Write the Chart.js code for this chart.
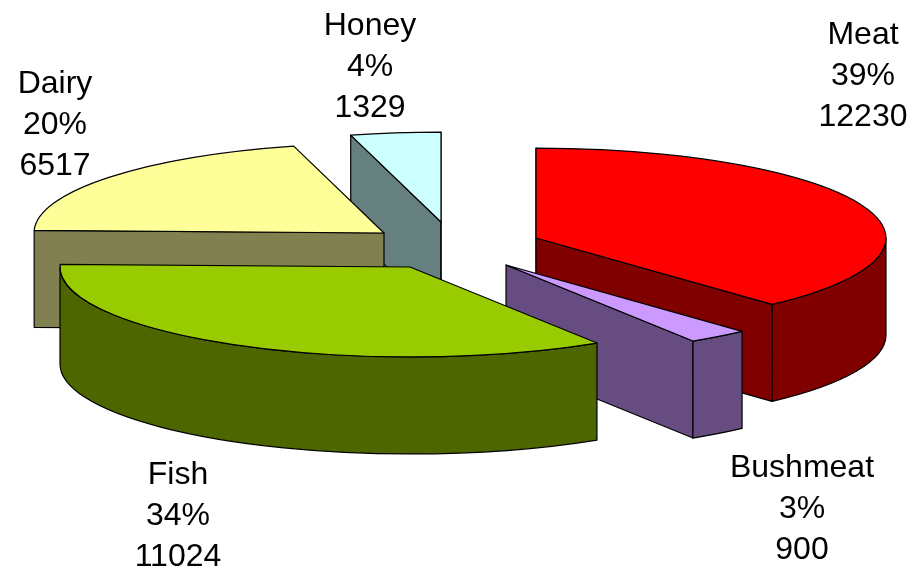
<!DOCTYPE html>
<html>
<head>
<meta charset="utf-8">
<style>html,body{margin:0;padding:0;background:#fff}#wrap{width:913px;height:571px}canvas{display:block}</style>
<script src="https://cdn.jsdelivr.net/npm/chart.js@4"></script>
</head>
<body>
<div id="wrap"><canvas id="c" width="913" height="571"></canvas></div>
<script>
const categories = ['Meat', 'Bushmeat', 'Fish', 'Dairy', 'Honey'];
const values = [12230, 900, 11024, 6517, 1329];
const percents = ['39%', '3%', '34%', '20%', '4%'];
const topColors = ['#FF0000', '#CC99FF', '#99CC00', '#FFFF99', '#CCFFFF'];
const sideColors = ['#800000', '#664C80', '#4D6600', '#808050', '#668080'];
const explode = [[86, -8], [56, 19], [-40, 21], [-66, -13], [-9, -24]];
const labelCenters = [[863, 35], [802, 468], [178, 475], [55, 84], [370, 26]];
const paintOrder = [4, 3, 0, 1, 2];
const squash = 0.257, depth = 97, lineGap = 41;

const pie3d = {
  id: 'pie3d',
  beforeDatasetDraw(chart, args) {
    const ctx = chart.ctx, arcs = args.meta.data;
    ctx.save();
    ctx.lineWidth = 1.2;
    ctx.strokeStyle = '#000';
    ctx.lineJoin = 'round';
    const shape = (fill) => { ctx.fillStyle = fill; ctx.fill(); ctx.stroke(); };
    const eps = 1e-6;
    paintOrder.forEach(i => {
      const p = arcs[i].getProps(['x', 'y', 'startAngle', 'endAngle', 'outerRadius'], true);
      const cx = p.x + explode[i][0];
      const cy = p.y + explode[i][1];
      const R = p.outerRadius, r = R * squash;
      const pt = a => [cx + R * Math.cos(a), cy + r * Math.sin(a)];
      const cutFace = a => {
        const e = pt(a);
        ctx.beginPath();
        ctx.moveTo(cx, cy); ctx.lineTo(e[0], e[1]);
        ctx.lineTo(e[0], e[1] + depth); ctx.lineTo(cx, cy + depth);
        ctx.closePath();
        shape(sideColors[i]);
      };
      // cut faces, only those turned toward the viewer
      if (Math.cos(p.startAngle) <= eps) cutFace(p.startAngle);
      if (Math.cos(p.endAngle) >= -eps) cutFace(p.endAngle);
      // curved outer wall (front half only)
      const a0 = Math.max(p.startAngle, 0), a1 = Math.min(p.endAngle, Math.PI);
      if (a1 > a0) {
        ctx.beginPath();
        ctx.ellipse(cx, cy, R, r, 0, a0, a1, false);
        ctx.ellipse(cx, cy + depth, R, r, 0, a1, a0, true);
        ctx.closePath();
        shape(sideColors[i]);
      }
      // top face
      ctx.beginPath();
      ctx.moveTo(cx, cy);
      ctx.ellipse(cx, cy, R, r, 0, p.startAngle, p.endAngle, false);
      ctx.closePath();
      shape(topColors[i]);
    });
    ctx.restore();
    return false;
  },
  afterDraw(chart) {
    const ctx = chart.ctx;
    ctx.save();
    ctx.fillStyle = '#000';
    ctx.font = '32px "Liberation Sans", Arial, sans-serif';
    ctx.textAlign = 'center';
    ctx.textBaseline = 'middle';
    categories.forEach((name, i) => {
      const [x, y] = labelCenters[i];
      [name, percents[i], String(values[i])].forEach((t, k) => ctx.fillText(t, x, y + k * lineGap));
    });
    ctx.restore();
  }
};

new Chart(document.getElementById('c'), {
  type: 'pie',
  data: {
    labels: categories,
    datasets: [{ data: values, backgroundColor: topColors, borderColor: '#000', borderWidth: 1, radius: 350 }]
  },
  options: {
    responsive: false,
    animation: false,
    layout: { padding: { right: 13, bottom: 79 } },
    plugins: { legend: { display: false }, tooltip: { enabled: false } }
  },
  plugins: [pie3d]
});
</script>
</body>
</html>
